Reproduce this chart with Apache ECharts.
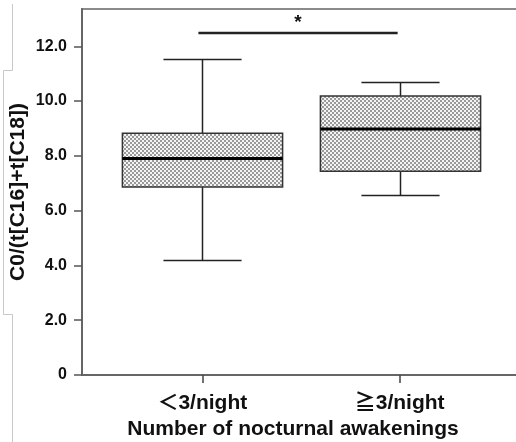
<!DOCTYPE html>
<html>
<head>
<meta charset="utf-8">
<script src="https://cdn.jsdelivr.net/npm/echarts@6/dist/echarts.min.js"></script>
<style>
  html, body { margin: 0; padding: 0; background: #fff; }
  #chart { width: 516px; height: 442px; }
</style>
</head>
<body>
<div id="chart"></div>
<script>
// 数据
const categories = ['＜3/night', '≧3/night'];
const lowWhisker = [4.18, 6.55];
const q1 = [6.86, 7.44];
const median = [7.9, 8.98];
const q3 = [8.82, 10.18];
const highWhisker = [11.52, 10.68];
const yTicks = [0, 2, 4, 6, 8, 10, 12];
const sigFrom = 0.98;
const sigTo = 1.99;
const sigLevel = 12.48;
const sigMark = '*';

const FONT = "'Liberation Sans', Arial, 'Noto Sans CJK JP', sans-serif";

// 网格状填充
const hatch = document.createElement('canvas');
hatch.width = 4;
hatch.height = 4;
const hctx = hatch.getContext('2d');
hctx.fillStyle = '#f4f4f4';
hctx.fillRect(0, 0, 4, 4);
hctx.fillStyle = '#9a9a9a';
hctx.fillRect(0, 0, 2, 2);
hctx.fillRect(2, 2, 2, 2);

const boxData = categories.map((c, i) => [i + 1, lowWhisker[i], q1[i], median[i], q3[i], highWhisker[i]]);

function renderBox(params, api) {
  const x = api.value(0);
  const half = api.size([0.812, 0])[0] / 2;
  const capHalf = api.size([0.396, 0])[0] / 2;
  const pLow = api.coord([x, api.value(1)]);
  const pQ1 = api.coord([x, api.value(2)]);
  const pMed = api.coord([x, api.value(3)]);
  const pQ3 = api.coord([x, api.value(4)]);
  const pHigh = api.coord([x, api.value(5)]);
  const cx = Math.round(pMed[0]) + 0.5;
  const line = (x1, y1, x2, y2, w, c) => ({
    type: 'line',
    shape: { x1, y1, x2, y2 },
    style: { stroke: c, lineWidth: w }
  });
  return {
    type: 'group',
    children: [
      line(cx, pHigh[1], cx, pQ3[1], 1.5, '#222'),
      line(cx, pQ1[1], cx, pLow[1], 1.5, '#222'),
      line(cx - capHalf, pHigh[1], cx + capHalf, pHigh[1], 1.5, '#222'),
      line(cx - capHalf, pLow[1], cx + capHalf, pLow[1], 1.5, '#222'),
      {
        type: 'rect',
        shape: { x: cx - half, y: pQ3[1], width: half * 2, height: pQ1[1] - pQ3[1] },
        style: { fill: { image: hatch, repeat: 'repeat' }, stroke: '#333', lineWidth: 1.5 }
      },
      line(cx - half, pMed[1], cx + half, pMed[1], 3, '#000')
    ]
  };
}

function renderSig(params, api) {
  const a = api.coord([sigFrom, sigLevel]);
  const b = api.coord([sigTo, sigLevel]);
  return {
    type: 'group',
    children: [
      { type: 'line', shape: { x1: a[0], y1: a[1], x2: b[0], y2: b[1] }, style: { stroke: '#222', lineWidth: 2.5 } },
      {
        type: 'text',
        x: (a[0] + b[0]) / 2, y: a[1] - 1,
        style: { text: sigMark, font: 'bold 19px ' + FONT, fill: '#111', align: 'center', verticalAlign: 'bottom' }
      }
    ]
  };
}

const chart = echarts.init(document.getElementById('chart'));

chart.setOption({
  animation: false,
  backgroundColor: '#fff',
  grid: {
    left: 82, right: -2, top: 9, bottom: 67,
    outerBoundsMode: 'none',
    show: true, borderColor: '#8a8a8a', borderWidth: 2
  },
  xAxis: {
    type: 'value',
    min: 0.39,
    max: 2.6,
    splitLine: { show: false },
    axisLine: { show: true, lineStyle: { color: '#666', width: 2 } },
    axisTick: { show: true, customValues: [1, 2], length: 8, lineStyle: { color: '#444', width: 1.5 } },
    axisLabel: {
      customValues: [1, 2],
      formatter: v => categories[Math.round(v) - 1],
      margin: 18,
      fontFamily: FONT, fontSize: 21, fontWeight: 'bold', color: '#111'
    },
    name: 'Number of nocturnal awakenings',
    nameLocation: 'middle',
    nameGap: 44,
    nameMoveOverlap: false,
    nameTextStyle: { fontFamily: FONT, fontSize: 21, fontWeight: 'bold', color: '#111', padding: [0, 14, 0, 0] }
  },
  yAxis: {
    type: 'value',
    min: 0,
    max: 13.36,
    splitLine: { show: false },
    axisLine: { show: true, lineStyle: { color: '#666', width: 2 } },
    axisTick: { show: true, customValues: yTicks, length: 8, lineStyle: { color: '#555', width: 1.5 } },
    axisLabel: {
      customValues: yTicks,
      formatter: v => (v === 0 ? '0' : v.toFixed(1)),
      margin: 15,
      fontFamily: FONT, fontSize: 16, fontWeight: 'bold', color: '#111'
    },
    name: 'C0/(t[C16]+t[C18])',
    nameLocation: 'middle',
    nameGap: 53,
    nameMoveOverlap: false,
    nameTextStyle: { fontFamily: FONT, fontSize: 21, fontWeight: 'bold', color: '#111' }
  },
  graphic: [{
    type: 'polyline',
    silent: true,
    shape: { points: [[12.5, 4], [12.5, 70.5], [3.5, 70.5], [3.5, 314.5], [12.5, 314.5], [12.5, 442]] },
    style: { stroke: '#c8c8c8', lineWidth: 1, fill: null }
  }],
  series: [
    {
      type: 'custom',
      renderItem: renderBox,
      encode: { x: 0, y: [1, 2, 3, 4, 5] },
      data: boxData,
      z: 3
    },
    {
      type: 'custom',
      renderItem: renderSig,
      encode: { x: 0, y: 1 },
      data: [[sigFrom, sigLevel]],
      z: 3
    }
  ]
});
</script>
</body>
</html>
